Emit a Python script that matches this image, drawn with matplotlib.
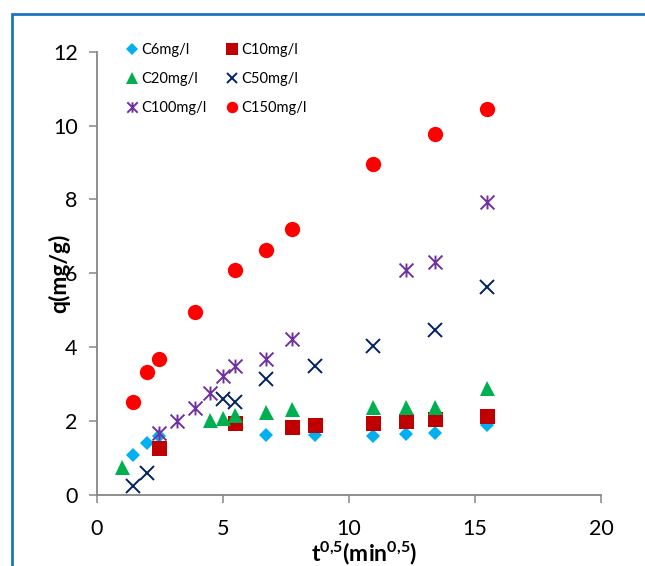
import matplotlib
matplotlib.use("Agg")
import matplotlib.pyplot as plt
from matplotlib.path import Path
from matplotlib.patches import Rectangle

plt.rcParams['font.family'] = ['Lato', 'DejaVu Sans']
plt.rcParams['mathtext.fontset'] = 'custom'
plt.rcParams['mathtext.rm'] = 'Lato'
plt.rcParams['mathtext.bf'] = 'Lato:bold'

# t^0.5 (min^0.5) and q (mg/g) for each initial concentration
x_c6 = [1.41, 2.0, 2.45, 6.71, 8.66, 10.95, 12.25, 13.42, 15.49]
q_c6 = [1.08, 1.40, 1.60, 1.63, 1.63, 1.61, 1.65, 1.67, 1.90]

x_c10 = [2.45, 5.48, 7.75, 8.66, 10.95, 12.25, 13.42, 15.49]
q_c10 = [1.27, 1.94, 1.85, 1.90, 1.94, 2.00, 2.06, 2.14]

x_c20 = [1.0, 4.47, 5.0, 5.48, 6.71, 7.75, 10.95, 12.25, 13.42, 15.49]
q_c20 = [0.75, 2.03, 2.09, 2.16, 2.26, 2.32, 2.39, 2.39, 2.39, 2.89]

x_c50 = [1.41, 2.0, 5.0, 5.48, 6.71, 8.66, 10.95, 13.42, 15.49]
q_c50 = [0.25, 0.59, 2.60, 2.53, 3.13, 3.48, 4.03, 4.47, 5.62]

x_c100 = [2.45, 3.16, 3.87, 4.47, 5.0, 5.48, 6.71, 7.75, 12.25, 13.42, 15.49]
q_c100 = [1.67, 2.01, 2.35, 2.76, 3.21, 3.50, 3.69, 4.22, 6.10, 6.31, 7.92]

x_c150 = [1.41, 2.0, 2.45, 3.87, 5.48, 6.71, 7.75, 10.95, 13.42, 15.49]
q_c150 = [2.53, 3.33, 3.69, 4.96, 6.08, 6.64, 7.20, 8.96, 9.76, 10.45]

# excel style star: an x with a vertical bar
star = Path([(0, -1), (0, 1), (-1, -1), (1, 1), (-1, 1), (1, -1)],
            [Path.MOVETO, Path.LINETO] * 3)

fig = plt.figure(figsize=(6.45, 5.66), dpi=100)
ax = fig.add_axes([0.1504, 0.1254, 0.7814, 0.7833])

h6, = ax.plot(x_c6, q_c6, 'D', color='#00B0F0', ms=7.6, mew=0, label='C6mg/l')
h10, = ax.plot(x_c10, q_c10, 's', color='#C00000', ms=10.8, mew=0, label='C10mg/l')
h20, = ax.plot(x_c20, q_c20, '^', color='#00B050', ms=10.8, mew=0, label='C20mg/l')
h50, = ax.plot(x_c50, q_c50, 'x', color='#002060', ms=9.5, mew=1.4, label='C50mg/l')
h100, = ax.plot(x_c100, q_c100, ls='none', marker=star, color='#7030A0', ms=10, mew=1.4, label='C100mg/l')
h150, = ax.plot(x_c150, q_c150, 'o', color='#FF0000', ms=11, mew=0, label='C150mg/l')

ax.set_xlim(0, 20)
ax.set_ylim(0, 12)
ax.set_xticks([0, 5, 10, 15, 20])
ax.set_yticks([0, 2, 4, 6, 8, 10, 12])

for s in ['top', 'right']:
    ax.spines[s].set_visible(False)
for s in ['left', 'bottom']:
    ax.spines[s].set_color('#868686')
    ax.spines[s].set_linewidth(1.3)
ax.tick_params(axis='both', direction='out', length=5.5, width=1.1, color='#868686',
               labelsize=15.5)
ax.tick_params(axis='x', pad=12)
ax.tick_params(axis='y', pad=8.5)

ax.set_xlabel(r'$\mathbf{t^{0{,}5}(min^{0{,}5})}$', fontsize=16.5)
ax.xaxis.set_label_coords(0.53, -0.1)
ax.set_ylabel('q(mg/g)', fontsize=16.5, fontweight='bold')
ax.yaxis.set_label_coords(-0.054, 0.5)

leg = ax.legend([h6, h20, h100, h10, h50, h150],
                ['C6mg/l', 'C20mg/l', 'C100mg/l', 'C10mg/l', 'C50mg/l', 'C150mg/l'],
                ncol=2, frameon=False, fontsize=10.5, markerscale=0.75,
                handlelength=0.6, handletextpad=0.3, columnspacing=1.5,
                labelspacing=1.05, loc='upper left', bbox_to_anchor=(0.035, 1.05))

fig.patches.append(Rectangle((12 / 645, -0.1), 1.2, (566 - 14) / 566 + 0.1,
                             transform=fig.transFigure, fill=False,
                             edgecolor='#1F74BF', linewidth=2))

fig.savefig('out.png', dpi=100)
